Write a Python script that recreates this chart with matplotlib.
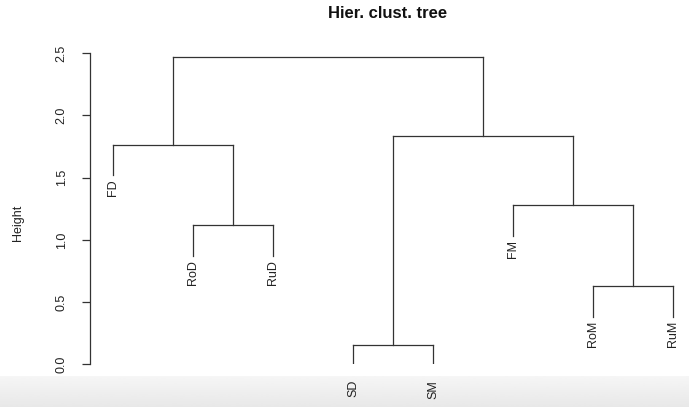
import numpy as np
import matplotlib
matplotlib.use("Agg")
import matplotlib.pyplot as plt

plt.rcParams['font.family'] = ['Liberation Sans', 'DejaVu Sans']

# leaves in plotting order
labels = ["FD", "RoD", "RuD", "SD", "SM", "FM", "RoM", "RuM"]
# hclust-style merges: negative = leaf (1-based), positive = earlier merge
merge_a = [-4, -7, -2, -6, -1, 1, 5]
merge_b = [-5, -8, -3, 2, 3, 4, 6]
heights = [0.155, 0.63, 1.12, 1.28, 1.765, 1.835, 2.47]
hang = 0.1 * max(heights)

fig = plt.figure(figsize=(6.89, 4.07), dpi=100)

# light gray strip along the bottom of the screenshot
bg = fig.add_axes([0, 0, 1, 31 / 407])
bg.imshow(np.linspace(0.965, 0.91, 50).reshape(-1, 1), cmap='gray', vmin=0, vmax=1,
          aspect='auto', extent=(0, 1, 0, 1))
bg.axis('off')

ax = fig.add_axes([90 / 689, (407 - 364.3) / 407, 599 / 689, 311 / 407])
ax.set_zorder(2)
ax.patch.set_alpha(0)

lc = '#333333'
pos = {}
hgt = {}
for i, (a, b) in enumerate(zip(merge_a, merge_b), start=1):
    h = heights[i - 1]
    xs = []
    for c in (a, b):
        if c < 0:
            x = -c
            ax.plot([x, x], [h, h - hang], color=lc, lw=0.9)
            ax.annotate(labels[-c - 1], (x, h - hang), xytext=(0, -3),
                        textcoords='offset points', rotation=90,
                        ha='center', va='top', fontsize=9, color='#222222',
                        annotation_clip=False)
        else:
            x = pos[c]
            ax.plot([x, x], [h, hgt[c]], color=lc, lw=0.9)
        xs.append(x)
    ax.plot(xs, [h, h], color=lc, lw=0.9)
    pos[i] = sum(xs) / 2
    hgt[i] = h

ax.set_xlim(0.7125, 8.2)
ax.set_ylim(0, 2.5)
for s in ['top', 'right', 'bottom']:
    ax.spines[s].set_visible(False)
ax.spines['left'].set_color(lc)
ax.spines['left'].set_linewidth(0.9)
ax.set_xticks([])
ax.set_yticks([0.0, 0.5, 1.0, 1.5, 2.0, 2.5])
ax.set_yticklabels(['0.0', '0.5', '1.0', '1.5', '2.0', '2.5'])
ax.tick_params(axis='y', length=6, width=0.9, color=lc, pad=10, labelsize=9,
               labelcolor='#222222')
for t in ax.get_yticklabels():
    t.set_rotation(90)
    t.set_va('center')
    t.set_ha('right')

fig.text(18 / 689, 1 - 223 / 407, 'Height', rotation=90, ha='center', va='center',
         fontsize=9, color='#222222')
fig.text(388 / 689, 1 - 14 / 407, 'Hier. clust. tree', ha='center', va='center',
         fontsize=12, fontweight='bold', color='#111111')

fig.savefig('out.png', dpi=100)
